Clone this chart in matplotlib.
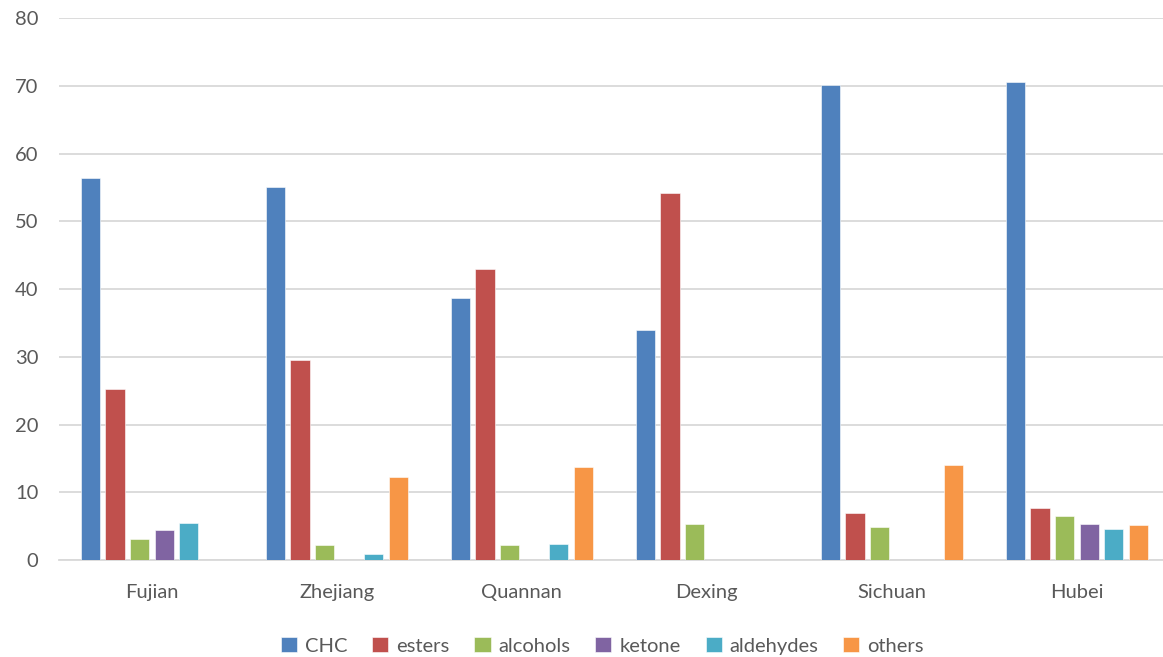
import numpy as np
import matplotlib.pyplot as plt

regions = ["Fujian", "Zhejiang", "Quannan", "Dexing", "Sichuan", "Hubei"]
series = ["CHC", "esters", "alcohols", "ketone", "aldehydes", "others"]

chc = [56.4, 55.0, 38.6, 34.0, 70.1, 70.6]
esters = [25.2, 29.5, 42.9, 54.2, 7.0, 7.7]
alcohols = [3.05, 2.2, 2.2, 5.25, 4.85, 6.5]
ketone = [4.4, 0, 0, 0, 0, 5.25]
aldehydes = [5.5, 0.9, 2.4, 0, 0, 4.55]
others = [0, 12.3, 13.7, 0, 14.0, 5.15]

colors = ["#4F81BD", "#C0504D", "#9BBB59", "#8064A2", "#4BACC6", "#F79646"]

plt.rcParams['font.family'] = ['Lato', 'DejaVu Sans']
text_color = "#595959"
grid_color = "#D9D9D9"

fig = plt.figure(figsize=(11.63, 6.57), dpi=100)
ax = fig.add_axes([0.0511, 0.1476, 0.9544, 0.825])

x = np.arange(len(regions))
step = 0.133
width = 0.104
for i, (name, vals) in enumerate(zip(series, [chc, esters, alcohols, ketone, aldehydes, others])):
    ax.bar(x + (i - 2.5) * step, vals, width=width, color=colors[i], label=name,
           edgecolor="white", linewidth=0.4, zorder=3)

ax.set_xlim(-0.5, len(regions) - 0.5)
ax.set_ylim(0, 80)
ax.set_yticks(np.arange(0, 81, 10))
ax.set_xticks(x)
ax.set_xticklabels(regions)
ax.yaxis.grid(True, color=grid_color, linewidth=1.3, zorder=0)
for side in ["left", "right", "top"]:
    ax.spines[side].set_visible(False)
ax.spines["bottom"].set_color(grid_color)
ax.spines["bottom"].set_linewidth(1.3)
ax.tick_params(axis="both", length=0, labelsize=14.5, colors=text_color)
ax.tick_params(axis="y", pad=15)
ax.tick_params(axis="x", pad=17)

leg = fig.legend(loc="center", bbox_to_anchor=(0.518, 0.017), ncol=6, frameon=False,
                 fontsize=14.5, handlelength=0.8, handleheight=0.8, handletextpad=0.4,
                 columnspacing=1.23, borderaxespad=0)
for t in leg.get_texts():
    t.set_color(text_color)

fig.savefig("out.png", dpi=100)
